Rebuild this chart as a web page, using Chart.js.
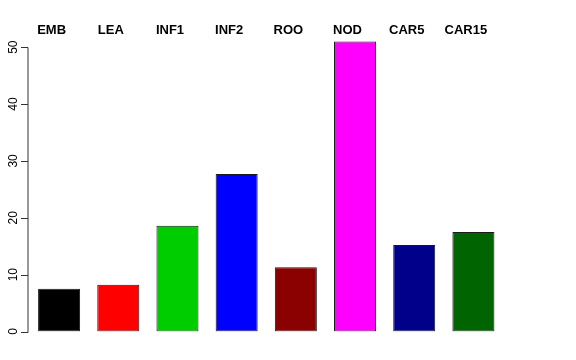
<!DOCTYPE html>
<html>
<head>
<meta charset="utf-8">
<script src="https://cdn.jsdelivr.net/npm/chart.js@4/dist/chart.umd.min.js"></script>
<style>
html,body{margin:0;padding:0;background:#fff;}
#wrap{width:576px;height:360px;position:relative;}
</style>
</head>
<body>
<div id="wrap"><canvas id="c" width="576" height="360"></canvas></div>
<script>
const categories = ["EMB","LEA","INF1","INF2","ROO","NOD","CAR5","CAR15"];
const values = [7.5, 8.2, 18.6, 27.7, 11.3, 51.0, 15.2, 17.5];
const barColors = ["#000000","#FF0000","#00CD00","#0000FF","#8B0000","#FF00FF","#00008B","#006400"];
const yTicks = [0, 10, 20, 30, 40, 50];

const yAxisPlugin = {
  id: 'rAxis',
  afterDraw(chart) {
    const ctx = chart.ctx;
    const y = chart.scales.y;
    const x0 = chart.chartArea.left - 1.5;
    ctx.save();
    ctx.strokeStyle = '#333';
    ctx.lineWidth = 1;
    ctx.beginPath();
    ctx.moveTo(x0, Math.round(y.getPixelForValue(yTicks[0])) + 0.5);
    ctx.lineTo(x0, Math.round(y.getPixelForValue(yTicks[yTicks.length-1])) + 0.5);
    yTicks.forEach(v => {
      const py = Math.round(y.getPixelForValue(v)) + 0.5;
      ctx.moveTo(x0, py);
      ctx.lineTo(x0 - 7, py);
    });
    ctx.stroke();
    ctx.fillStyle = '#000';
    ctx.font = '12px "Liberation Sans", Arial, sans-serif';
    ctx.textAlign = 'center';
    ctx.textBaseline = 'middle';
    yTicks.forEach(v => {
      const py = y.getPixelForValue(v);
      ctx.save();
      ctx.translate(x0 - 14, py);
      ctx.rotate(-Math.PI/2);
      ctx.fillText(String(v), 0, 0);
      ctx.restore();
    });
    ctx.restore();
  }
};

new Chart(document.getElementById('c'), {
  type: 'bar',
  data: {
    labels: categories,
    datasets: [{
      data: values,
      backgroundColor: barColors,
      borderColor: '#1a1a1a',
      borderWidth: 1,
      borderSkipped: false,
      barPercentage: 0.71,
      categoryPercentage: 1
    }]
  },
  options: {
    responsive: false,
    animation: false,
    devicePixelRatio: 1,
    layout: { padding: { left: 29.5, right: 73, top: 23, bottom: 28.5 } },
    plugins: { legend: { display: false }, tooltip: { enabled: false } },
    scales: {
      x: {
        position: 'top',
        grid: { display: false, drawTicks: false },
        border: { display: false },
        ticks: {
          color: '#000',
          padding: 0,
          labelOffset: -7.5,
          font: { family: '"Liberation Sans", Arial, sans-serif', size: 13, weight: 'bold' }
        }
      },
      y: {
        display: false,
        min: 0,
        max: 51.5
      }
    }
  },
  plugins: [yAxisPlugin]
});
</script>
</body>
</html>
